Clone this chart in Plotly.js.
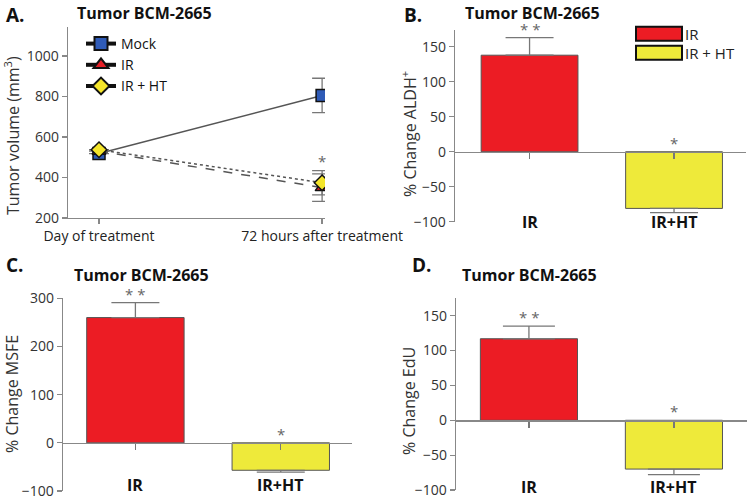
<!DOCTYPE html>
<html>
<head>
<meta charset="utf-8">
<script src="https://cdn.plot.ly/plotly-3.0.1.min.js"></script>
<style>
  body { margin: 0; background: #fff; }
  #chart { width: 750px; height: 500px; }
</style>
</head>
<body>
<div id="chart"></div>
<script>
// ---- panel A : tumor volume ----
var timePoints = ['Day of treatment', '72 hours after treatment'];
var mockVol = [518, 805];
var mockErr = [0, 85];
var irVol = [530, 350];
var irErr = [0, 68];
var irhtVol = [537, 374];
var irhtErr = [0, 60];
var seriesNames = ['Mock', 'IR', 'IR + HT'];

// ---- panels B, C, D : % change ----
var groups = ['IR', 'IR+HT'];
var aldhChange = [138, -81];
var aldhErr = [25, 6];
var msfeChange = [260, -57];
var msfeErr = [31, 4];
var eduChange = [117, -70];
var eduErr = [18, 8];
var stars = ['* *', '*'];

var W = 750, H = 500;
var FONT = 'Open Sans, Noto Sans, sans-serif';
var barColors = ['#ec1c24', '#eeea3a'];

// pixel box -> paper domain
function dx(a, b) { return [a / W, b / W]; }
function dy(top, bottom) { return [1 - bottom / H, 1 - top / H]; }

var panels = {
  A: { xd: dx(68, 325), yd: dy(27, 218), xr: [-0.139, 1.013], yr: [200, 1143], dtick: 200 },
  B: { xd: dx(455, 746), yd: dy(30, 221.7), xr: [-0.516, 1.498], yr: [-100, 174], dtick: 50, labY: 222 },
  C: { xd: dx(63, 352), yd: dy(298.3, 491), xr: [-0.498, 1.49], yr: [-100, 300], dtick: 100, labY: 485 },
  D: { xd: dx(456, 746.7), yd: dy(298.3, 490), xr: [-0.503, 1.502], yr: [-100, 175], dtick: 50, labY: 487 }
};

function zeroPos(p) {
  return p.yd[0] + (0 - p.yr[0]) / (p.yr[1] - p.yr[0]) * (p.yd[1] - p.yd[0]);
}

var data = [];

// panel A lines
var lineDefs = [
  { y: mockVol, e: mockErr, dash: 'solid', sym: 'square', col: '#2f5bb7' },
  { y: irVol, e: irErr, dash: 'dash', sym: 'triangle-up', col: '#e41e26' },
  { y: irhtVol, e: irhtErr, dash: 'dot', sym: 'diamond', col: '#f4e52a' }
];
lineDefs.forEach(function(d, i) {
  data.push({
    type: 'scatter', mode: 'lines+markers',
    x: timePoints, y: d.y, xaxis: 'x', yaxis: 'y',
    showlegend: false,
    line: { color: '#555', width: 1.5, dash: d.dash },
    marker: { symbol: d.sym, size: 12, color: d.col, line: { color: '#111', width: 1.5 } },
    error_y: { type: 'data', array: d.e, visible: true, color: '#777', thickness: 1.3, width: 10 }
  });
});
// legend entries for panel A (thick black key lines as in the figure)
lineDefs.forEach(function(d, i) {
  data.push({
    type: 'scatter', mode: 'lines+markers',
    x: [null], y: [null], xaxis: 'x', yaxis: 'y',
    name: seriesNames[i],
    line: { color: '#111', width: 4 },
    marker: { symbol: d.sym, size: 13, color: d.col, line: { color: '#111', width: 2 } }
  });
});

// bar panels
var barSets = [
  { key: 'B', ax: '2', vals: aldhChange, err: aldhErr, cap: 24 },
  { key: 'C', ax: '3', vals: msfeChange, err: msfeErr, cap: 24 },
  { key: 'D', ax: '4', vals: eduChange, err: eduErr, cap: 26 }
];
barSets.forEach(function(s) {
  var plus = s.vals.map(function(v, i) { return v > 0 ? s.err[i] : 0; });
  var minus = s.vals.map(function(v, i) { return v < 0 ? s.err[i] : 0; });
  data.push({
    type: 'bar', x: groups, y: s.vals, width: 0.67,
    xaxis: 'x' + s.ax, yaxis: 'y' + s.ax, showlegend: false,
    marker: { color: barColors, line: { color: '#555', width: 1 } },
    error_y: { type: 'data', symmetric: false, array: plus, arrayminus: minus,
               color: '#777', thickness: 1.3, width: s.cap }
  });
});

var annotations = [];
var shapes = [];

function addText(txt, x, y, size, opts) {
  opts = opts || {};
  annotations.push({
    text: txt, xref: 'paper', yref: 'paper', x: x / W, y: 1 - y / H,
    xanchor: opts.xanchor || 'left', yanchor: 'middle', showarrow: false,
    textangle: opts.angle || 0,
    font: { family: FONT, size: size, color: opts.color || '#111', weight: opts.bold ? 'bold' : 'normal' }
  });
}

// panel letters and titles
addText('A.', 4, 15, 19, { bold: true });
addText('Tumor BCM-2665', 75, 13, 16, { bold: true });
addText('B.', 402, 15, 19, { bold: true });
addText('Tumor BCM-2665', 463, 13, 16, { bold: true });
addText('C.', 4, 265, 19, { bold: true });
addText('Tumor BCM-2665', 72, 275, 16, { bold: true });
addText('D.', 410, 265, 19, { bold: true });
addText('Tumor BCM-2665', 460, 275, 16, { bold: true });

// y axis titles
addText('Tumor volume (mm<sup>3</sup>)', 12, 136, 16, { angle: -90, xanchor: 'center', color: '#333' });
addText('% Change ALDH<sup>+</sup>', 409, 134, 16, { angle: -90, xanchor: 'center', color: '#333' });
addText('% Change MSFE', 12, 394, 16, { angle: -90, xanchor: 'center', color: '#333' });
addText('% Change EdU', 409, 401, 16, { angle: -90, xanchor: 'center', color: '#333' });

// significance star on panel A
annotations.push({
  text: '*', xref: 'x', yref: 'y', x: timePoints[1],
  y: Math.max(irVol[1] + irErr[1], irhtVol[1] + irhtErr[1]),
  yanchor: 'bottom', showarrow: false, yshift: -2,
  font: { family: FONT, size: 15, color: '#666' }
});

// bar stars and category labels
barSets.forEach(function(s) {
  var p = panels[s.key];
  s.vals.forEach(function(v, i) {
    annotations.push({
      text: stars[i], xref: 'x' + s.ax, yref: 'y' + s.ax, x: groups[i],
      y: v > 0 ? v + s.err[i] : 0, yanchor: 'bottom', showarrow: false, yshift: -3,
      font: { family: FONT, size: 15, color: '#666' }
    });
    annotations.push({
      text: '<b>' + groups[i] + '</b>', xref: 'x' + s.ax, yref: 'paper', x: groups[i],
      y: 1 - p.labY / H, yanchor: 'middle', showarrow: false,
      font: { family: FONT, size: 16, color: '#111' }
    });
  });
});

// legend of panel B
var legendNames = ['IR', 'IR + HT'];
var keyTops = [26.7, 45.7];
legendNames.forEach(function(n, i) {
  shapes.push({
    type: 'rect', xref: 'paper', yref: 'paper',
    x0: 636 / W, x1: 682 / W, y0: 1 - (keyTops[i] + 14) / H, y1: 1 - keyTops[i] / H,
    fillcolor: barColors[i], line: { color: '#111', width: 2 }
  });
  addText(n, 683, keyTops[i] + 7, 15, { color: '#222' });
});

function yAxis(p, anchor) {
  return {
    domain: p.yd, range: p.yr, dtick: p.dtick, anchor: anchor,
    showline: true, linecolor: '#888', linewidth: 1.3,
    ticks: 'outside', ticklen: 5, tickcolor: '#888', tickwidth: 1.3,
    showgrid: false, zeroline: false,
    tickfont: { family: FONT, size: 14, color: '#333' }
  };
}
function barXAxis(p) {
  return {
    domain: p.xd, range: p.xr, type: 'category', anchor: 'free', position: zeroPos(p),
    showline: true, linecolor: '#888', linewidth: 1.3,
    ticks: 'outside', ticklen: 6, tickcolor: '#777', tickwidth: 1.3,
    showticklabels: false, showgrid: false, zeroline: false
  };
}

var layout = {
  width: W, height: H,
  margin: { l: 0, r: 0, t: 0, b: 0 },
  paper_bgcolor: '#fff', plot_bgcolor: 'rgba(0,0,0,0)',
  font: { family: FONT, color: '#333' },
  showlegend: true,
  legend: {
    x: 0.108, y: 1 - 28 / H, xanchor: 'left', yanchor: 'top',
    bgcolor: 'rgba(0,0,0,0)', font: { family: FONT, size: 14, color: '#111' },
    itemwidth: 30, tracegroupgap: 0
  },
  xaxis: {
    domain: panels.A.xd, range: panels.A.xr, type: 'category', anchor: 'y',
    showline: true, linecolor: '#888', linewidth: 1.3,
    ticks: 'outside', ticklen: 5, tickcolor: '#888', tickwidth: 1.3,
    showgrid: false, zeroline: false,
    tickfont: { family: FONT, size: 14, color: '#222' }
  },
  yaxis: yAxis(panels.A, 'x'),
  xaxis2: barXAxis(panels.B), yaxis2: yAxis(panels.B, 'x2'),
  xaxis3: barXAxis(panels.C), yaxis3: yAxis(panels.C, 'x3'),
  xaxis4: barXAxis(panels.D), yaxis4: yAxis(panels.D, 'x4'),
  annotations: annotations,
  shapes: shapes
};

Plotly.newPlot('chart', data, layout, { displayModeBar: false, staticPlot: true });
</script>
</body>
</html>
